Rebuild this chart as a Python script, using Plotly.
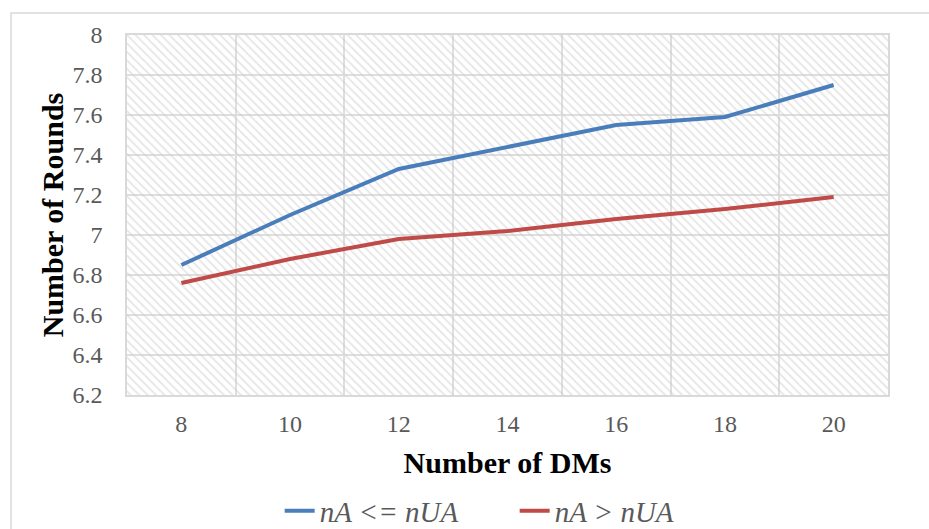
import plotly.graph_objects as go

dms = [8, 10, 12, 14, 16, 18, 20]
rounds_le = [6.85, 7.10, 7.33, 7.44, 7.55, 7.59, 7.75]
rounds_gt = [6.76, 6.88, 6.98, 7.02, 7.08, 7.13, 7.19]
y_ticks = [6.2, 6.4, 6.6, 6.8, 7.0, 7.2, 7.4, 7.6, 7.8, 8.0]
y_tick_text = ["6.2", "6.4", "6.6", "6.8", "7", "7.2", "7.4", "7.6", "7.8", "8"]
x_bounds = [7, 9, 11, 13, 15, 17, 19, 21]
series_names = ["<i>nA &lt;= nUA</i>", "<i>nA &gt; nUA</i>"]

X_MIN, X_MAX = x_bounds[0], x_bounds[-1]
Y_MIN, Y_MAX = y_ticks[0], y_ticks[-1]

fig = go.Figure()

# hatched plot-area background
fig.add_trace(go.Scatter(
    x=[X_MIN, X_MAX, X_MAX, X_MIN, X_MIN],
    y=[Y_MIN, Y_MIN, Y_MAX, Y_MAX, Y_MIN],
    mode="none", fill="toself",
    fillcolor="rgba(0,0,0,0)",
    fillpattern=dict(shape="\\", size=6, solidity=0.3,
                     fgcolor="#cbcbcb", bgcolor="rgba(255,255,255,0)"),
    showlegend=False, hoverinfo="skip",
))

fig.add_trace(go.Scatter(x=dms, y=rounds_le, mode="lines", name=series_names[0],
                         line=dict(color="#4A7EBB", width=4)))
fig.add_trace(go.Scatter(x=dms, y=rounds_gt, mode="lines", name=series_names[1],
                         line=dict(color="#BE4B48", width=4)))

fig.update_layout(
    width=929, height=529,
    margin=dict(l=127, r=41, t=35, b=134),
    paper_bgcolor="white", plot_bgcolor="white",
    font=dict(family="Liberation Serif, Times New Roman, serif", color="#595959", size=24),
    showlegend=True,
    legend=dict(orientation="h", xref="container", yref="container",
                x=0.554, xanchor="center", y=0.034, yanchor="middle",
                font=dict(size=29, color="#595959"), tracegroupgap=0, entrywidth=190),
    shapes=[dict(type="rect", xref="paper", yref="paper",
                 x0=-0.1524, x1=1.2, y0=-0.6, y1=1.061,
                 line=dict(color="#d9d9d9", width=1.5), fillcolor="rgba(0,0,0,0)",
                 layer="below")],
)

fig.update_xaxes(
    range=[X_MIN, X_MAX], tickmode="array", tickvals=dms, ticktext=[str(v) for v in dms],
    showgrid=False, zeroline=False, ticks="", ticklabelstandoff=6, automargin=False,
    showline=True, mirror=True, linecolor="#d9d9d9", linewidth=1.5,
    minor=dict(tickmode="array", tickvals=x_bounds, showgrid=True, gridcolor="#dedede", gridwidth=1.5, ticks=""),
    title=dict(text="<b>Number of DMs</b>", font=dict(size=30, color="black"), standoff=16),
)
fig.update_yaxes(
    range=[Y_MIN, Y_MAX], tickmode="array", tickvals=y_ticks, ticktext=y_tick_text,
    showgrid=True, gridcolor="#dedede", gridwidth=1.5, zeroline=False, ticks="",
    ticklabelstandoff=18, automargin=False,
    showline=True, mirror=True, linecolor="#d9d9d9", linewidth=1.5,
    title=dict(text="<b>Number of Rounds</b>", font=dict(size=30, color="black"), standoff=0),
)

fig.write_html("out.html", config={"displayModeBar": False})

# remove default page margin so the figure sits at the window origin
with open("out.html", "r", encoding="utf-8") as f:
    html = f.read()
html = html.replace("<head>", "<head><style>html,body{margin:0;padding:0;overflow:hidden;}</style>", 1)
with open("out.html", "w", encoding="utf-8") as f:
    f.write(html)
